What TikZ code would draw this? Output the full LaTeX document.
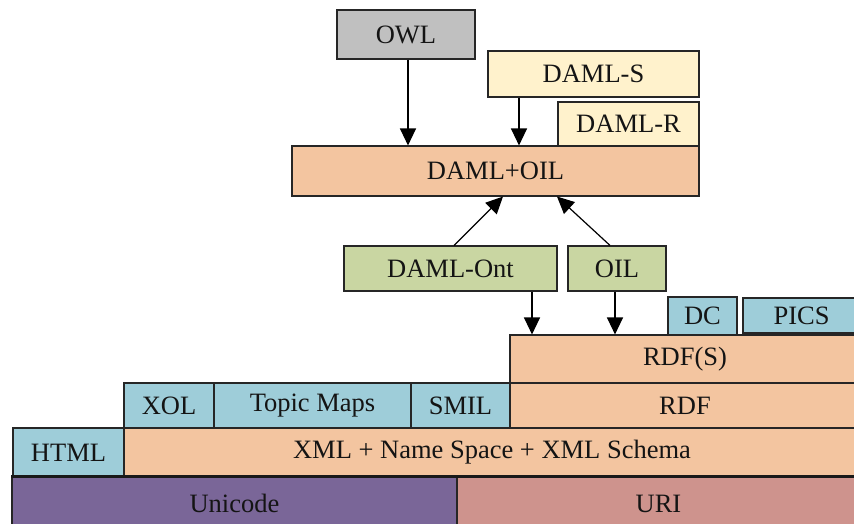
\documentclass[tikz,border=0pt]{standalone}
\usepackage{fontspec}
\setmainfont{Liberation Serif}
\usetikzlibrary{arrows.meta}
\definecolor{peach}{HTML}{F3C5A0}
\definecolor{lblue}{HTML}{9ECDD9}
\definecolor{lgreen}{HTML}{C9D6A2}
\definecolor{lgray}{HTML}{C0C0C0}
\definecolor{cream}{HTML}{FFF2CC}
\definecolor{purp}{HTML}{7A6698}
\definecolor{rose}{HTML}{CE938D}
\tikzset{
  box/.style={draw=black!85, line width=1.1pt, inner sep=0pt, anchor=center,
    font=\fontsize{26.5}{30}\selectfont, text=black!92},
  arr/.style={line width=1.2pt, -{Triangle[width=16pt,length=17pt]}}
}
\begin{document}
\begin{tikzpicture}[x=1pt,y=-1pt]
\useasboundingbox (0,0) rectangle (854,524);
\clip (0,0) rectangle (854,524);
% top
\node[box, fill=lgray, minimum width=138pt, minimum height=49pt] (owl) at (406,34.5) {OWL};
\node[box, fill=cream, minimum width=211pt, minimum height=46pt] (damls) at (593.5,74) {DAML-S};
\node[box, fill=cream, minimum width=141pt, minimum height=44pt] (damlr) at (628.5,124) {DAML-R};
\node[box, fill=peach, minimum width=407pt, minimum height=50pt] (damloil) at (495.5,171) {DAML+OIL};
% middle
\node[box, fill=lgreen, minimum width=213pt, minimum height=45pt] (ont) at (450.5,268.5) {DAML-Ont};
\node[box, fill=lgreen, minimum width=98pt, minimum height=45pt] (oil) at (617,268.5) {OIL};
\node[box, fill=lblue, minimum width=69pt, minimum height=38pt] (dc) at (702.5,316) {DC};
\node[box, fill=lblue, minimum width=117pt, minimum height=35pt] (pics) at (801.5,315.5) {PICS};
% layers
\node[box, fill=peach, minimum width=350pt, minimum height=48pt] (rdfs) at (685,359) {RDF(S)};
\node[box, fill=peach, minimum width=350pt, minimum height=45pt] (rdf) at (685,405.5) {RDF};
\node[box, fill=lblue, minimum width=90pt, minimum height=45pt] (xol) at (169,405.5) {XOL};
\node[box, fill=lblue, minimum width=197pt, minimum height=45pt] (tm) at (312.5,405.5) {Topic Maps};
\node[box, fill=lblue, minimum width=99pt, minimum height=45pt] (smil) at (460.5,405.5) {SMIL};
\node[box, fill=lblue, minimum width=111pt, minimum height=49pt] (html) at (68.5,452.5) {HTML};
\node[box, fill=peach, minimum width=736pt, minimum height=49pt] (xml) at (492,452.5) {XML + Name Space + XML Schema};
\node[box, fill=purp, minimum width=445pt, minimum height=53pt] (uni) at (234.5,503.5) {Unicode};
\node[box, fill=rose, minimum width=403pt, minimum height=53pt] (uri) at (658.5,503.5) {URI};
\draw[line width=3pt, black!90] (uni.north west) -- (uri.north east);
% arrows
\draw[arr] ([xshift=2pt]owl.south) -- ([xshift=2pt]owl.south |- damloil.north);
\draw[arr] ([xshift=-74.5pt]damls.south) -- ([xshift=-74.5pt]damls.south |- damloil.north);
\draw[arr] ([xshift=3.5pt]ont.north) -- ([xshift=7.5pt]damloil.south);
\draw[arr] ([xshift=-7pt]oil.north) -- ([xshift=61.5pt]damloil.south);
\draw[arr] ([xshift=81.5pt]ont.south) -- ([xshift=81.5pt]ont.south |- rdfs.north);
\draw[arr] ([xshift=-2pt]oil.south) -- ([xshift=-2pt]oil.south |- rdfs.north);
\end{tikzpicture}
\end{document}
